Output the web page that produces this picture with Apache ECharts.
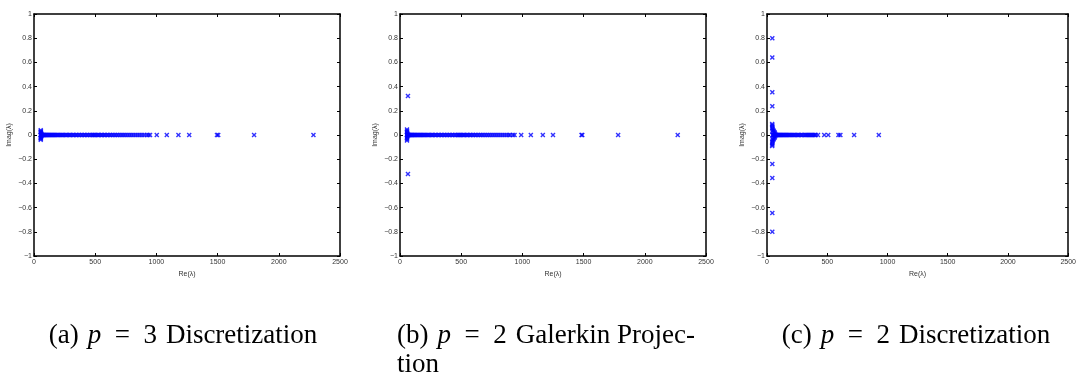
<!DOCTYPE html>
<html>
<head>
<meta charset="utf-8">
<script src="https://cdn.jsdelivr.net/npm/echarts@6/dist/echarts.min.js"></script>
<style>html,body{margin:0;padding:0;background:#fff}#c{width:1079px;height:378px}</style>
</head>
<body>
<div id="c"></div>
<script>
// Tick labels
var xTicks = [0, 500, 1000, 1500, 2000, 2500];
var yTicks = [-1, -0.8, -0.6, -0.4, -0.2, 0, 0.2, 0.4, 0.6, 0.8, 1];

// Panel (a): p = 3 Discretization — real eigenvalues (Imag = 0)
var realA = [55,58,62,66,70,75,80,85,91,97,103,110,117,124,131,139,147,155,163,172,181,190,199,209,219,229,239,250,261,272,283,294,306,318,330,342,354,367,380,393,406,419,432,445,458,471,
  480,490,500,511,522,533,545,557,569,581,594,607,620,633,647,661,675,689,704,719,734,749,765,781,797,813,830,847,864,882,900,920,935,948,
  1003,1085,1180,1268,1495,1505,1798,2283];
// Panel (a): complex eigenvalues [Re, Imag]
var complexA = [[55,0.04],[55,-0.04],[56,0.03],[56,-0.03],[57,0.02],[57,-0.02],[58,0.012],[58,-0.012],[54,0.025],[54,-0.025],[60,0.008],[60,-0.008]];

// Panel (b): p = 2 Galerkin Projection
var realB = [57,60,64,68,72,77,82,88,94,100,107,114,121,128,136,144,152,161,170,179,188,198,208,218,228,239,250,261,272,284,296,308,320,332,345,358,371,384,397,410,423,436,449,462,473,
  482,492,502,513,524,535,547,559,571,583,596,609,622,636,650,664,678,693,708,723,738,754,770,786,802,819,836,853,870,887,900,
  922,936,990,1069,1167,1250,1483,1489,1782,2269];
var complexB = [[57,0.045],[57,-0.045],[58,0.035],[58,-0.035],[57,0.025],[57,-0.025],[59,0.015],[59,-0.015],[60,0.008],[60,-0.008],[65,0.322],[65,-0.322]];

// Panel (c): p = 2 Discretization
var realC = [45,48,51,55,59,63,68,73,78,84,90,96,103,110,117,124,132,140,148,157,166,175,184,194,204,214,224,235,246,257,268,280,292,304,317,
  326,336,346,356,366,376,386,396,404,
  423,475,508,593,609,723,928];
var complexC = [[44,0.8],[44,-0.8],[44,0.641],[44,-0.645],[44,0.353],[44,-0.355],[44,0.238],[44,-0.24],
  [43,0.09],[43,-0.09],[44,0.08],[44,-0.08],[45,0.07],[45,-0.07],[44,0.06],[44,-0.06],[46,0.05],[46,-0.05],[45,0.035],[45,-0.035],
  [52,0.04],[52,-0.04],[56,0.03],[56,-0.03],[60,0.025],[60,-0.025],[64,0.018],[64,-0.018],[68,0.01],[68,-0.01]];

function pts(re, cx) {
  return re.map(function (r) { return [r, 0]; }).concat(cx);
}
var panels = [pts(realA, complexA), pts(realB, complexB), pts(realC, complexC)];
var grids = [
  {left: 34, top: 14, width: 306, height: 242},
  {left: 400, top: 14, width: 306, height: 242},
  {left: 767, top: 14, width: 306, height: 242}
];
var FONT = '"Liberation Sans", Arial, sans-serif';
var axLine = {show: true, onZero: false, lineStyle: {color: '#000', width: 1.5}};
var tick = {show: true, inside: true, length: 3, lineStyle: {color: '#000', width: 1}};
function fmtY(v) { var s = String(Math.round(v * 10) / 10); return s.replace('-', '\u2212'); }
function fmtX(v) { return String(Math.round(v)); }

var xAxes = [], yAxes = [], series = [];
grids.forEach(function (g, i) {
  xAxes.push({gridIndex: i, type: 'value', min: xTicks[0], max: xTicks[xTicks.length - 1], interval: 500, position: 'bottom',
    axisLine: axLine, axisTick: tick, splitLine: {show: false},
    axisLabel: {fontSize: 7, color: '#333', margin: 3, fontFamily: FONT, formatter: fmtX, showMinLabel: true, showMaxLabel: true},
    name: 'Re(\u03bb)', nameLocation: 'middle', nameGap: 13, nameTextStyle: {fontSize: 7, color: '#333', fontFamily: FONT}});
  xAxes.push({gridIndex: i, type: 'value', min: xTicks[0], max: xTicks[xTicks.length - 1], interval: 500, position: 'top',
    axisLine: axLine, axisTick: tick, splitLine: {show: false}, axisLabel: {show: false}});
  yAxes.push({gridIndex: i, type: 'value', min: yTicks[0], max: yTicks[yTicks.length - 1], interval: 0.2, position: 'left',
    axisLine: axLine, axisTick: tick, splitLine: {show: false},
    axisLabel: {fontSize: 7, color: '#333', margin: 2, fontFamily: FONT, formatter: fmtY, showMinLabel: true, showMaxLabel: true},
    name: 'Imag(\u03bb)', nameLocation: 'middle', nameGap: 21, nameRotate: 90, nameTextStyle: {fontSize: 7, color: '#333', fontFamily: FONT}});
  yAxes.push({gridIndex: i, type: 'value', min: yTicks[0], max: yTicks[yTicks.length - 1], interval: 0.2, position: 'right',
    axisLine: axLine, axisTick: tick, splitLine: {show: false}, axisLabel: {show: false}});
  series.push({type: 'scatter', xAxisIndex: i * 2, yAxisIndex: i * 2, data: panels[i],
    symbol: 'path://M0,2L2,0L5,3L8,0L10,2L7,5L10,8L8,10L5,7L2,10L0,8L3,5Z', symbolSize: 5,
    itemStyle: {color: '#0000ff'}, silent: true});
});

var SERIF = '"Liberation Serif", "Times New Roman", serif';
var FS = 27;
var rich = {n: {fontFamily: SERIF, fontSize: FS, color: '#000'}, i: {fontFamily: SERIF, fontSize: FS, fontStyle: 'italic', color: '#000'}};
function cap(x, y, txt, align) {
  return {type: 'text', x: x, y: y, style: {text: txt, rich: rich, align: align, verticalAlign: 'middle', fontFamily: SERIF, fontSize: FS, fill: '#000'}};
}
var SP = '\u2004', EQ = '\u2002=\u2002';

var chart = echarts.init(document.getElementById('c'), null, {renderer: 'canvas'});
chart.setOption({
  animation: false,
  grid: grids,
  xAxis: xAxes,
  yAxis: yAxes,
  series: series,
  graphic: [
    cap(183, 336, '{n|(a)' + SP + '}{i|p}{n|' + EQ + '3' + SP + 'Discretization}', 'center'),
    cap(397, 336, '{n|(b)' + SP + '}{i|p}{n|' + EQ + '2' + SP + 'Galerkin Projec-}', 'left'),
    cap(397, 365, '{n|tion}', 'left'),
    cap(916, 336, '{n|(c)' + SP + '}{i|p}{n|' + EQ + '2' + SP + 'Discretization}', 'center')
  ]
});
</script>
</body>
</html>
